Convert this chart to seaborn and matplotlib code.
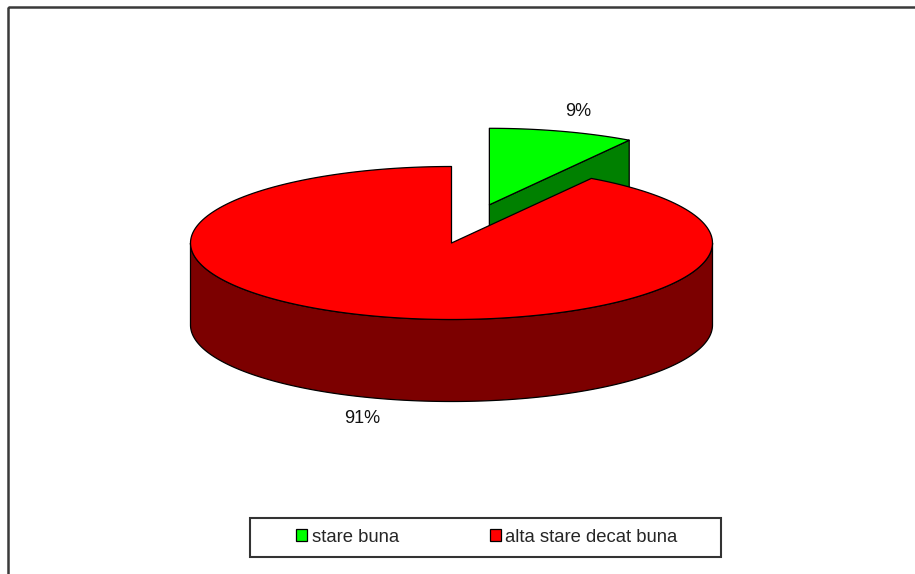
import numpy as np
import matplotlib
matplotlib.use("Agg")
import matplotlib.pyplot as plt
from matplotlib.patches import Polygon, Rectangle, Patch
import seaborn as sns

# Survey shares (percent)
categories = ["stare buna", "alta stare decat buna"]
shares = [9, 91]
pct_labels = ["9%", "91%"]

top_colors = ["#00ff00", "#ff0000"]
side_colors = ["#008000", "#7c0000"]
explode = [0.52, 0.0]

sns.set_theme(style="white")
plt.rcParams["font.family"] = ["Liberation Sans", "DejaVu Sans"]

W, H = 915, 574
fig = plt.figure(figsize=(W / 100, H / 100), dpi=100)
ax = fig.add_axes([0, 0, 1, 1])
ax.set_xlim(0, W)
ax.set_ylim(H, 0)
ax.axis("off")

# chart area border
ax.add_patch(Rectangle((8, 7), 1000, 1000, fill=False, edgecolor="#3a3a3a",
                       lw=1.8, zorder=1))

# ellipse geometry of the 3-D pie (pixel units, y pointing down)
cx, cy = 451.5, 243.0
a, b = 261.0, 76.5
depth = 82.0


def rim(t_deg, ox, oy, dz=0.0):
    t = np.radians(t_deg)
    return np.column_stack([ox + a * np.cos(t), oy - b * np.sin(t) + dz])


def arc(t_from, t_to, ox, oy, dz=0.0, n=200):
    return rim(np.linspace(t_from, t_to, n), ox, oy, dz)


total = float(sum(shares))
bounds = []
start = 90.0
for v in shares:
    end = start - 360.0 * v / total
    bounds.append((start, end))
    start = end

mids = [0.5 * (s + e) for s, e in bounds]
order = sorted(range(len(shares)), key=lambda i: -np.sin(np.radians(mids[i])))

edge_kw = dict(edgecolor="black", lw=0.9, joinstyle="round")

for i in order:
    t1, t2 = bounds[i]
    m = np.radians(mids[i])
    ox = cx + explode[i] * a * np.cos(m)
    oy = cy - explode[i] * b * np.sin(m)
    z = 2 + (1 - np.sin(m))

    # radial side faces facing the viewer
    for t, visible in ((t1, np.cos(np.radians(t1)) < -1e-9),
                       (t2, np.cos(np.radians(t2)) > 1e-9)):
        if visible:
            p = rim([t], ox, oy)[0]
            quad = [(ox, oy), tuple(p), (p[0], p[1] + depth), (ox, oy + depth)]
            ax.add_patch(Polygon(quad, closed=True, facecolor=side_colors[i],
                                 zorder=z, **edge_kw))

    # outer wall: front half of the rim (angles where sin < 0)
    lo, hi = min(t1, t2), max(t1, t2)
    for k in range(-2, 3):
        f_lo, f_hi = 180 + 360 * k, 360 + 360 * k
        s_lo, s_hi = max(lo, f_lo), min(hi, f_hi)
        if s_hi - s_lo > 1e-6:
            top = arc(s_lo, s_hi, ox, oy)
            bot = arc(s_hi, s_lo, ox, oy, depth)
            ax.add_patch(Polygon(np.vstack([top, bot]), closed=True,
                                 facecolor=side_colors[i], zorder=z, **edge_kw))

    # top face
    face = np.vstack([[[ox, oy]], arc(t1, t2, ox, oy)])
    ax.add_patch(Polygon(face, closed=True, facecolor=top_colors[i],
                         zorder=z + 0.01, **edge_kw))

    # percentage label, placed just outside the rim
    k = 1.25
    s = np.sin(m)
    lx = ox + 1.22 * a * np.cos(m)
    ly = oy - k * b * s + (depth if s < 0 else 0) - 1.5 * np.sign(s)
    ax.text(lx, ly, pct_labels[i], ha="center", va="center", fontsize=13,
            color="#111111", zorder=10)

# legend
handles = [Patch(facecolor=c, edgecolor="black", lw=0.9) for c in top_colors]
ax.legend(handles, categories, loc="center", bbox_to_anchor=(487, 537),
          bbox_transform=ax.transData, ncol=2, frameon=False, fontsize=13.3,
          handlelength=0.6, handleheight=0.6, handletextpad=0.25,
          columnspacing=4.9, borderpad=0.2, borderaxespad=0)
ax.add_patch(Rectangle((250, 518), 471, 39, fill=False, edgecolor="#333333",
                       lw=1.5, zorder=1))

fig.savefig("out.png", dpi=100)
